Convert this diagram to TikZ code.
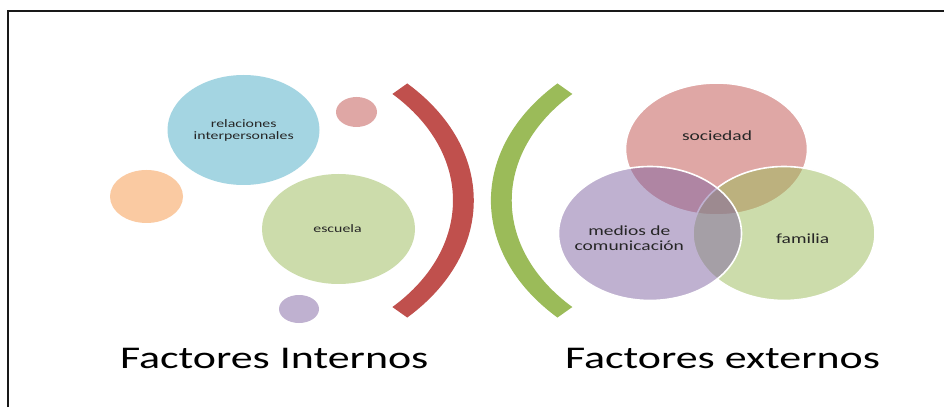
\documentclass[tikz,border=0pt]{standalone}
\usepackage{fontspec}
\setmainfont{Carlito}
\usetikzlibrary{shapes.geometric,calc}
\definecolor{ored}{HTML}{C0504D}
\definecolor{ogreen}{HTML}{9BBB59}
\definecolor{oblue}{HTML}{4BACC6}
\definecolor{oorange}{HTML}{F79646}
\definecolor{opurple}{HTML}{8064A2}
\definecolor{txtgray}{HTML}{262626}
\begin{document}
\begin{tikzpicture}[x=1pt,y=1pt,
  bub/.style={ellipse, inner sep=0pt, draw=none, fill opacity=0.5},
  venn/.style={ellipse, inner sep=0pt, draw=white, line width=1.6pt, fill opacity=0.5},
  txt/.style={xscale=1.39, inner sep=0pt, align=center, text=txtgray},
  small/.style={txt, font=\fontsize{11.4}{12}\selectfont},
  mid/.style={txt, font=\fontsize{14}{15}\selectfont},
  big/.style={xscale=1.39, inner sep=0pt, anchor=base, font=\fontsize{31.6}{36}\selectfont, text=black}]
\useasboundingbox (0,0) rectangle (944,407);
\fill[white] (0,0) rectangle (944,407);
% frame
\draw[line width=2pt, black!90] (8.3,0) -- (8.3,396) -- (944,396);

% left bubbles
\node[bub, fill=oblue, minimum width=152pt, minimum height=110pt] (rel) at (243.5,277) {};
\node[bub, fill=ored, minimum width=41pt, minimum height=30pt] (pinks) at (356.5,295) {};
\node[bub, fill=oorange, minimum width=73pt, minimum height=53pt] (orng) at (146.5,210.5) {};
\node[bub, fill=ogreen, minimum width=153pt, minimum height=110pt] (esc) at (338.5,178) {};
\node[bub, fill=opurple, minimum width=40pt, minimum height=28pt] (purps) at (299,98) {};
\node[small] (reltxt) at (243.7,277) {relaciones\\interpersonales};
\node[small] (esctxt) at (337.5,178.7) {escuela};

% brackets
\coordinate (rc) at (241.7,206.5);
\fill[ored] ($(rc)+(44.5:232.1pt and 167pt)$)
  arc[start angle=44.5, end angle=-44.5, x radius=232.1pt, y radius=167pt]
  -- ($(rc)+(-44.5:211.3pt and 152pt)$)
  arc[start angle=-44.5, end angle=44.5, x radius=211.3pt, y radius=152pt] -- cycle;
\coordinate (gc) at (723,206.5);
\fill[ogreen] ($(gc)+(135.5:232.1pt and 167pt)$)
  arc[start angle=135.5, end angle=224.5, x radius=232.1pt, y radius=167pt]
  -- ($(gc)+(224.5:211.3pt and 152pt)$)
  arc[start angle=224.5, end angle=135.5, x radius=211.3pt, y radius=152pt] -- cycle;

% venn
\node[venn, fill=ored, minimum width=182pt, minimum height=132pt] (soc) at (716.5,258) {};
\node[venn, fill=ogreen, minimum width=182pt, minimum height=134pt] (fam) at (784,173.5) {};
\node[venn, fill=opurple, minimum width=183pt, minimum height=134pt] (med) at (650,173.5) {};
\node[mid] (soctxt) at (717,271) {sociedad};
\node[mid] (medtxt) at (629.3,168.5) {medios de\\comunicación};
\node[mid] (famtxt) at (802.7,168.3) {familia};

% titles
\node[big] (fint) at (274.2,39) {Factores Internos};
\node[big] (fext) at (722.5,39) {Factores externos};
\end{tikzpicture}
\end{document}
